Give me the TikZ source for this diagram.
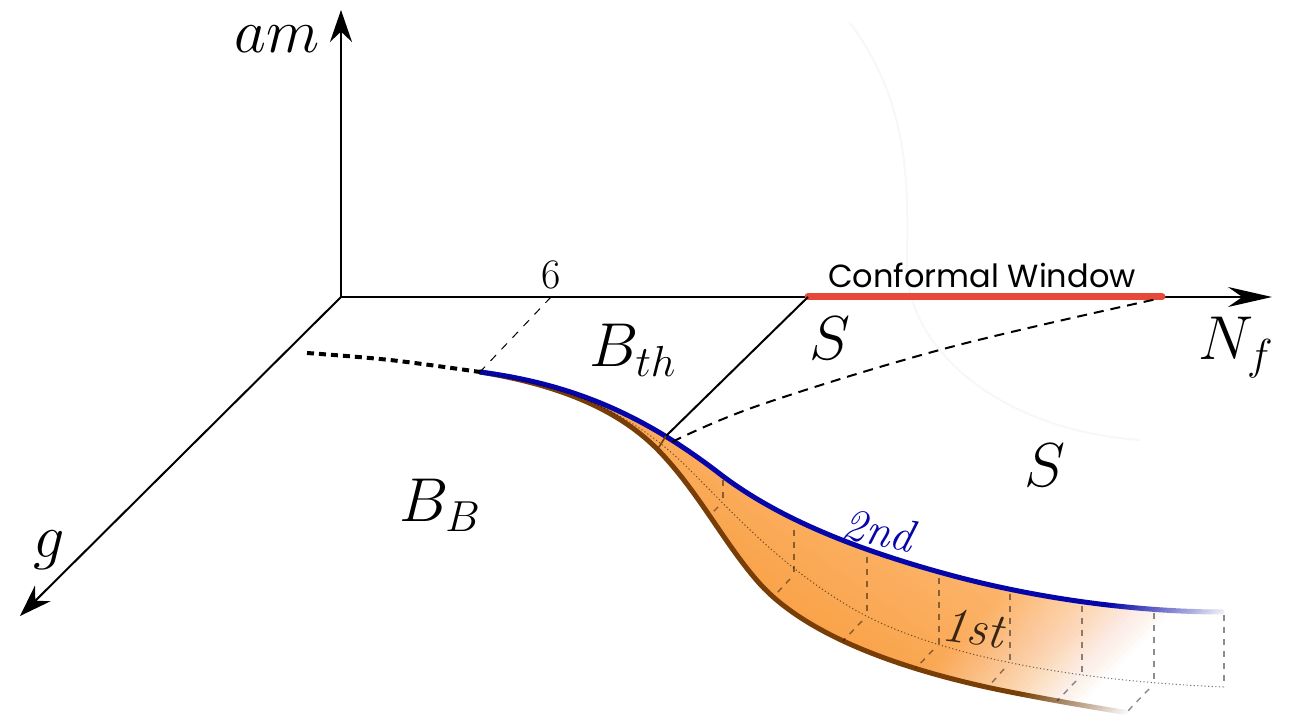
\documentclass[tikz,border=0pt]{standalone}
\usepackage{fix-cm}
\usepackage{fontspec}
\newfontfamily\popfont{Poppins}
\usetikzlibrary{arrows.meta}
\definecolor{bluec}{RGB}{5,5,170}
\definecolor{brownc}{RGB}{120,62,5}
\definecolor{redc}{RGB}{232,72,58}
\definecolor{orL}{RGB}{255,206,155}
\definecolor{orD}{RGB}{247,142,35}
\definecolor{firstc}{RGB}{55,38,20}
\newcommand\bluecurve{(480,372) .. controls (580,385) and (650,420) .. (720,474) .. controls (775,516) and (850,548) .. (950,575) .. controls (1050,602) and (1150,612) .. (1222,612)}
\newcommand\browncurve{(480,372) .. controls (560,385) and (620,410) .. (660,452) .. controls (700,494) and (725,545) .. (760,584) .. controls (800,628) and (880,665) .. (1000,690) .. controls (1060,702) and (1110,710) .. (1135,714)}
\newcommand\bandpath{\bluecurve .. controls (1195,645) and (1160,690) .. (1135,714) .. controls (1110,710) and (1060,702) .. (1000,690) .. controls (880,665) and (800,628) .. (760,584) .. controls (725,545) and (700,494) .. (660,452) .. controls (620,410) and (560,385) .. (480,372) -- cycle}
\begin{document}
\begin{tikzpicture}[x=0.5pt,y=-0.5pt,
  axis/.style={line width=1pt,-{Stealth[length=16pt,width=11pt]}},
  lbl/.style={inner sep=0pt,anchor=base,font=\fontsize{31}{36}\selectfont},
  gdash/.style={line width=0.7pt,black,opacity=0.45,dash pattern=on 3pt off 3pt},
  middot/.style={line width=0.5pt,black,opacity=0.55,dash pattern=on 0.6pt off 1.2pt},
  blueline/.style={line width=2.5pt,bluec,line cap=round},
  brownline/.style={line width=2.5pt,brownc},
  fadestrip/.style={white}]
\useasboundingbox (0,0) rectangle (1296,715);
% faint arc
\draw[black!3,line width=1pt] (850,23) .. controls (915,110) and (907,200) .. (907,270) .. controls (910,350) and (1000,430) .. (1140,440);
% band
\shade[top color=orL,bottom color=orD,shading angle=-35] \bandpath;
\begin{scope}
\clip \bandpath;
\foreach \k in {0,...,29}{
  \pgfmathsetmacro\op{1/(30-\k)}
  \pgfmathsetmacro\sa{1600+\k*190/30}
  \fill[fadestrip,opacity=\op] ({\sa-560},560) -- (1400,560) -- (1400,720) -- ({\sa-720},720) -- cycle;
}
\end{scope}
% edges
\draw[brownline] \browncurve;
\draw[blueline] \bluecurve;
\foreach \k in {0,...,29}{
  \pgfmathsetmacro\op{1/(30-\k)}
  \pgfmathsetmacro\sa{1715+\k*130/30}
  \fill[fadestrip,opacity=\op] ({\sa-585},585) -- (1400,585) -- (1400,720) -- ({\sa-720},720) -- cycle;
}
% mid dotted curve
\draw[middot] (480,372) .. controls (570,388) and (630,410) .. (690,470) .. controls (740,520) and (780,565) .. (850,607) .. controls (920,649) and (1050,680) .. (1224,687);
% vertical and slanted dashes
\foreach \x/\t/\b/\sx/\sy/\ex/\ey in {723/480/502/718/507/711/514, 794/530/574/790/579/776/594, 867/557/616/862/621/843/641, 939/578/645/933/650/916/668, 1010/594/664/1004/669/988/687, 1082/606/676/1076/681/1057/701, 1154/613/684/1149/689/1125/714}{
  \coordinate (vt\x) at (\x,\t);
  \coordinate (vb\x) at (\x,\b);
  \coordinate (vs\x) at (\sx,\sy);
  \coordinate (ve\x) at (\ex,\ey);
  \draw[gdash] (vt\x) -- (vb\x);
  \draw[gdash] (vs\x) -- (ve\x);
}
\coordinate (vt1224) at (1224,615);
\coordinate (vb1224) at (1224,687);
\draw[gdash] (vt1224) -- (vb1224);
% coordinates
\coordinate (O) at (341,297);
\coordinate (amtip) at (341,10);
\coordinate (nftip) at (1272,297);
\coordinate (gtip) at (20,616);
\coordinate (six) at (551,297);
\coordinate (start) at (480,372);
\coordinate (dotl) at (307,353);
\coordinate (cwa) at (808,297);
\coordinate (cwb) at (1162,297);
\coordinate (meet) at (666,436);
\coordinate (meetb) at (657,450);
% thick dotted and thin dashed
\draw[line width=2pt,dash pattern=on 3.5pt off 2.5pt] plot[smooth,tension=0.6] coordinates {(dotl) (390,360) (start)};
\draw[line width=0.5pt,dash pattern=on 4pt off 4pt] (six) -- (start);
% axes
\draw[axis] (O) -- (amtip);
\draw[line width=1pt,-{Stealth[length=22pt,width=10pt]}] (O) -- (nftip);
\draw[axis] (O) -- (gtip);
% conformal window
\draw[redc,line width=3.5pt,line cap=round] (cwa) -- (cwb);
\draw[line width=1pt] (cwa) -- (meet);
\draw[brownc,line width=0.8pt] (meet) -- (meetb);
\draw[line width=1pt,dash pattern=on 5pt off 3.5pt] plot[smooth,tension=0.6] coordinates {(672,442) (760,405) (947,348) (1157,299)};
% labels
\node[lbl] (lam) at (277,53) {$am$};
\node[lbl] (lnf) at (1236,360) {$N_f$};
\node[lbl] (lg) at (49,558) {$g$};
\node[lbl] (ls1) at (830,360) {$S$};
\node[lbl] (ls2) at (1045,487) {$S$};
\node[lbl] (lbth) at (633,367) {$B_{th}$};
\node[lbl] (lbb) at (440,522) {$B_B$};
\node[inner sep=0pt,anchor=base,font=\fontsize{21}{25}\selectfont] (l6) at (551,289) {6};
\node[inner sep=0pt,anchor=base,font=\popfont\fontsize{16}{19}\selectfont] (lcw) at (982,288) {Conformal Window};
\node[inner sep=0pt,font=\fontsize{23}{27}\selectfont\itshape,text=bluec,rotate=-13] (l2nd) at (879,530) {2nd};
\node[inner sep=0pt,font=\fontsize{25}{29}\selectfont\itshape,text=firstc,rotate=-7] (l1st) at (973,628) {1st};
\end{tikzpicture}
\end{document}
